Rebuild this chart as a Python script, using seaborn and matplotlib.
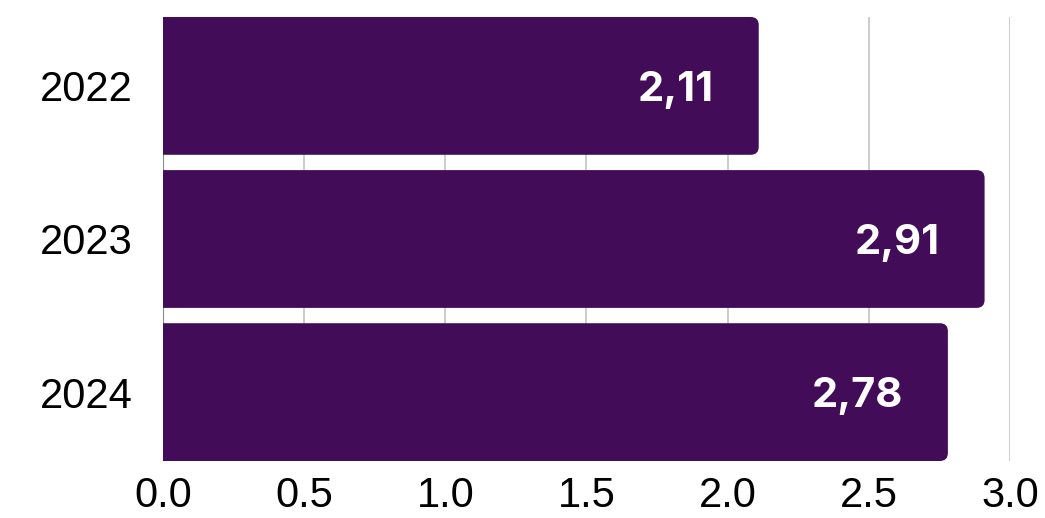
import matplotlib
matplotlib.use("Agg")
import matplotlib.pyplot as plt
import seaborn as sns
import pandas as pd
from matplotlib.patches import FancyBboxPatch

# Chart data
years = ["2022", "2023", "2024"]
values = [2.11, 2.91, 2.78]
x_ticks = [0.0, 0.5, 1.0, 1.5, 2.0, 2.5, 3.0]

bar_color = "#430C59"

df = pd.DataFrame({"year": years, "value": values})

sns.set_theme(style="white")
plt.rcParams["font.family"] = ["Liberation Sans", "DejaVu Sans"]

fig = plt.figure(figsize=(10.45, 5.18), dpi=100)
ax = fig.add_axes([163 / 1045, 1 - 461 / 518, (1010 - 163) / 1045, (461 - 17) / 518])

sns.barplot(data=df, y="year", x="value", color=bar_color, width=0.9,
            saturation=1, ax=ax, zorder=3)

ax.set_xlim(0, 3.0)
ax.set_ylim(2.45, -0.45)

# swap plain bars for ones with rounded right corners
px_x = ax.bbox.width / 3.0
px_y = ax.bbox.height / 2.9
radius = 8 / px_x
for p in list(ax.patches):
    x0, y0 = p.get_x(), p.get_y()
    w, h = p.get_width(), p.get_height()
    p.remove()
    box = FancyBboxPatch((x0 - 0.2, y0), w + 0.2, h,
                         boxstyle=f"round,pad=0,rounding_size={radius}",
                         mutation_aspect=px_x / px_y,
                         facecolor=bar_color, edgecolor="none", zorder=3)
    ax.add_patch(box)

# value labels inside the bars
for i, v in enumerate(values):
    ax.annotate(f"{v:.2f}".replace(".", ","), xy=(v, i), xytext=(-45, -15),
                textcoords="offset pixels", ha="right", va="baseline",
                color="white", fontsize=30, fontweight="bold",
                family=["Inter", "DejaVu Sans"], zorder=4)

ax.set_xticks(x_ticks)
ax.set_xticklabels([f"{t:.1f}" for t in x_ticks])
ax.grid(axis="x", color="#c8c8c8", linewidth=1.3, zorder=0)
ax.grid(axis="y", visible=False)
ax.axvline(0, color="#888888", linewidth=1.5, zorder=1)
for s in ax.spines.values():
    s.set_visible(False)

ax.tick_params(axis="both", length=0, labelsize=30, labelcolor="black")
ax.tick_params(axis="y", pad=22)
ax.tick_params(axis="x", pad=11)
ax.set_xlabel("")
ax.set_ylabel("")

fig.savefig("out.png", dpi=100)
